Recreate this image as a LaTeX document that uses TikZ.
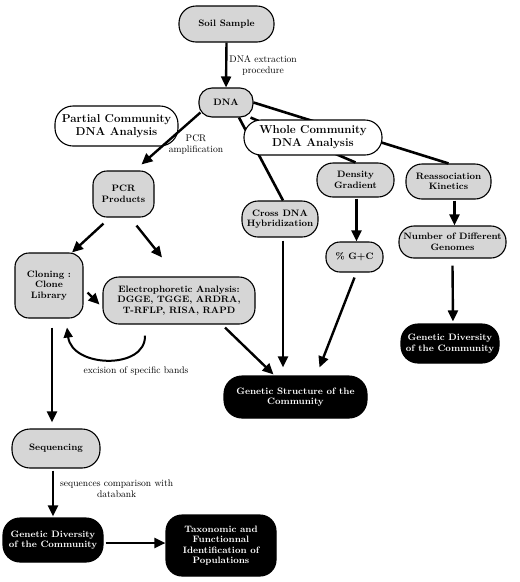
\documentclass[tikz,border=0pt]{standalone}
\usetikzlibrary{arrows.meta,calc}
\begin{document}
\begin{tikzpicture}[x=1pt,y=-1pt,
  box/.style={draw=black, line width=1.1pt, align=center, inner sep=1pt, font=\fontsize{9.3}{10.5}\selectfont\bfseries},
  grey/.style={box, fill=gray!32},
  wht/.style={box, fill=white, font=\fontsize{11.5}{13}\selectfont\bfseries},
  blk/.style={box, fill=black, text=white},
  sz/.style n args={3}{minimum width=#1pt, minimum height=#2pt, rounded corners=#3pt},
  arr/.style={line width=2.4pt, -{Triangle[length=11pt,width=10pt]}},
  lnk/.style={line width=2.6pt},
  lbl/.style={align=center, font=\fontsize{9.6}{11}\selectfont, inner sep=0pt}
]
\useasboundingbox (0,0) rectangle (520,582);
\fill[white] (0,0) rectangle (520,582);

% nodes
\node[grey, sz={95}{36}{17}] (soil) at (226.5,24) {Soil Sample};
\node[grey, sz={54}{29}{13}] (dna) at (226,102.5) {DNA};
\node[wht, sz={123}{40}{18}] (partial) at (116.5,126) {Partial Community\\DNA Analysis};
\node[grey, sz={77}{34}{16}] (density) at (355.5,180) {Density\\Gradient};
\node[grey, sz={85}{35}{16}] (reassoc) at (448.5,181.5) {Reassociation\\Kinetics};
\node[grey, sz={76}{36}{16}] (cross) at (280,219) {Cross DNA\\Hybridization};
\node[grey, sz={61}{46}{14}] (pcr) at (123.5,194) {PCR\\Products};
\node[grey, sz={57}{30}{14}] (gc) at (354.5,257) {\% G+C};
\node[grey, sz={107}{32}{15}] (number) at (452.5,242) {Number of Different\\Genomes};
\node[blk, sz={98}{39}{17}] (gdright) at (450,343.5) {Genetic Diversity\\of the Community};
\node[grey, sz={68}{65}{14}] (cloning) at (49,285.5) {Cloning :\\Clone\\Library};
\node[grey, sz={152}{47}{16}] (electro) at (179,300.5) {Electrophoretic Analysis:\\DGGE, TGGE, ARDRA,\\T-RFLP, RISA, RAPD};
\node[blk, sz={143}{42}{18}] (gstruct) at (295.5,397) {Genetic Structure of the\\Community};
\node[grey, sz={88}{39}{18}] (seq) at (56,448.5) {Sequencing};
\node[blk, sz={100}{44}{17}] (gdleft) at (53,540) {Genetic Diversity\\of the Community};
\node[blk, sz={110}{61}{16}] (tax) at (221,545.5) {Taxonomic and\\Functionnal\\Identification of\\Populations};

% links from DNA (behind the whole community node)
\draw[lnk] (dna.east) -- (reassoc.north);
\draw[lnk] ([xshift=-3pt]dna.south east) -- (density.north);
\draw[lnk] ([xshift=13pt]dna.south) -- ([xshift=3pt]cross.north);
\node[wht, sz={138}{35}{17}] (whole) at (313,137.5) {Whole Community\\DNA Analysis};

% arrows
\draw[arr] (soil.south) -- (dna.north)
  node[lbl, pos=0.5, right=2pt] {DNA extraction\\procedure};
\draw[arr] ($(dna.west)+(2,10)$) -- ($(pcr.north)+(18,-6)$);
\node[lbl] (pcrlbl) at (196,145) {PCR\\amplification};
\draw[arr] ($(density.south)+(1,1)$) -- ($(gc.north)+(2,0)$);
\draw[arr] ($(reassoc.south)+(6,1)$) -- ($(number.north)+(2,0)$);
\draw[arr] ($(number.south)+(0,7)$) -- ($(gdright.north)+(3,-2)$);
\draw[arr] ($(pcr.south)+(-20,6)$) -- ($(cloning.north)+(23,0)$);
\draw[arr] ($(pcr.south)+(13,8)$) -- ($(electro.north)+(-17,-19)$);
\draw[arr] ($(cloning.east)+(4,7)$) -- ($(electro.west)+(-3,4)$);
\draw[line width=2pt, -{Triangle[length=10pt,width=9pt]}] ($(electro.south)+(-34,11)$)
  .. controls (146,370) and (72,368) .. ($(cloning.south)+(18,9)$);
\node[lbl] (exlbl) at (136,371) {excision of specific bands};
\draw[arr] ($(electro.south)+(46,3)$) -- ($(gstruct.north)+(-22,-1)$);
\draw[arr] ($(cross.south)+(3,3)$) -- ($(gstruct.north)+(-12.5,-8)$);
\draw[arr] ($(gc.south)+(0,5)$) -- ($(gstruct.north)+(24,-8)$);
\draw[arr] ($(cloning.south)+(3,9)$) -- ($(seq.north)+(-4,-6)$);
\draw[arr] ($(seq.south)+(-3,2)$) -- ($(gdleft.north)+(0,-1)$)
  node[lbl, pos=0.4, right=6pt] {sequences comparison with\\databank};
\draw[arr] ($(gdleft.east)+(2,3)$) -- ($(tax.west)+(0,-2.5)$);
\end{tikzpicture}
\end{document}
